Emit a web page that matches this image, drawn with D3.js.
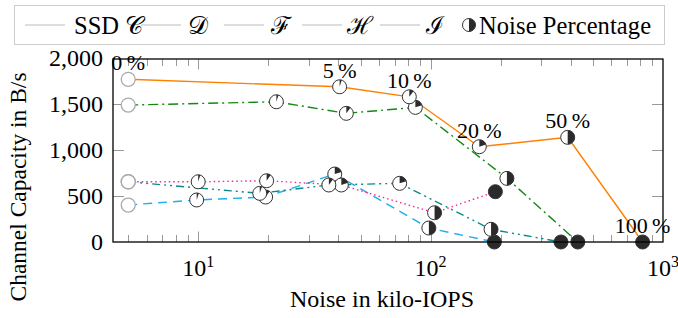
<!DOCTYPE html>
<html><head><meta charset="utf-8">
<script src="https://cdn.jsdelivr.net/npm/d3@7"></script>
<style>body{margin:0;background:#fff}svg{display:block}</style>
</head><body><svg id="c" width="678" height="318"></svg>
<script>
// ---- data ----
const percentages = [0, 5, 10, 20, 50, 100];
const seriesNames = ["SSD \u{1D49E}", "\u{1D49F}", "\u2131", "\u210B", "\u2110"];
const noiseC = [5, 40.6, 81, 162, 389, 817];
const capC   = [1769, 1688, 1579, 1036, 1138, 0];
const noiseD = [5, 21.7, 43.4, 86, 213, 430];
const capD   = [1489, 1525, 1399, 1464, 692, 0];
const noiseF = [5, 18.4, 36.5, 73.6, 182, 364];
const capF   = [655, 529, 620, 638, 138, 0];
const noiseH = [5, 10, 19.7, 41.3, 104, 190];
const capH   = [655, 655, 666, 620, 318, 547];
const noiseI = [5, 9.85, 19.5, 38.7, 98.3, 188];
const capI   = [402, 457, 489, 739, 152, 0];
const yTicks = [0, 500, 1000, 1500, 2000];
const xMajor = [10, 100, 1000];
const legendExtra = "Noise Percentage";
const xLabel = "Noise in kilo-IOPS";
const yLabel = "Channel Capacity in B/s";

// ---- styles ----
const styles = [
  {color: "#ff8000", dash: null},
  {color: "#118a11", dash: "10,4,2,4"},
  {color: "#0a8a8a", dash: "8,4,2,4,2,4"},
  {color: "#f0269a", dash: "1.5,3"},
  {color: "#1ab0ea", dash: "9,6"}
];
const series = [
  {name: seriesNames[0], xs: noiseC, ys: capC, labels: true},
  {name: seriesNames[1], xs: noiseD, ys: capD},
  {name: seriesNames[2], xs: noiseF, ys: capF},
  {name: seriesNames[3], xs: noiseH, ys: capH},
  {name: seriesNames[4], xs: noiseI, ys: capI}
];
// legend layout (line start x, text x)
const legendLayout = [[25, 74], [141, 188], [224, 271], [302, 347], [380, 426]];

const svg = d3.select("#c").style("font-family", '"Liberation Serif"');
const L = 113, R = 663, T = 59, B = 242;
const x = d3.scaleLog().domain([4.3, 1000]).range([L, R]);
const y = d3.scaleLinear().domain([0, 1990]).range([B, T]);
const FS = 24;
const txt = (sel) => sel.append("text").style("font-family", '"Liberation Serif"').attr("fill", "#000");

// ticks
const tg = svg.append("g").attr("stroke", "#999").attr("stroke-width", 1);
x.ticks().forEach(v => {
  const major = Math.abs(Math.log10(v) - Math.round(Math.log10(v))) < 1e-9;
  const len = major ? 10.5 : 7;
  const px = Math.round(x(v)) + 0.5;
  if (px > R - 1) return;
  tg.append("line").attr("x1", px).attr("x2", px).attr("y1", B).attr("y2", B - len);
  tg.append("line").attr("x1", px).attr("x2", px).attr("y1", T).attr("y2", T + len);
});
yTicks.forEach(v => {
  const py = Math.round(y(v)) + 0.5;
  if (py < T + 1 || py > B - 1) return;
  tg.append("line").attr("x1", L).attr("x2", L + 11).attr("y1", py).attr("y2", py);
  tg.append("line").attr("x1", R).attr("x2", R - 11).attr("y1", py).attr("y2", py);
});

// tick labels
const fmt = d3.format(",");
yTicks.forEach(v => {
  txt(svg).attr("x", L - 10).attr("y", y(v)).attr("text-anchor", "end")
    .attr("dominant-baseline", "central").attr("font-size", FS).text(fmt(v));
});
xMajor.forEach(v => {
  const t = txt(svg).attr("x", x(v)).attr("y", 276).attr("text-anchor", "middle").attr("font-size", FS);
  t.append("tspan").text("10");
  t.append("tspan").attr("font-size", 16).attr("dy", -9).text(String(Math.round(Math.log10(v))));
});

// axis labels
txt(svg).attr("x", 382).attr("y", 307).attr("text-anchor", "middle").attr("font-size", FS).text(xLabel);
txt(svg).attr("transform", "translate(26,187) rotate(-90)").attr("text-anchor", "middle").attr("font-size", 23.5).text(yLabel);

// series
const line = d3.line().x(d => x(d[0])).y(d => y(d[1]));
const arc = d3.arc().innerRadius(0).outerRadius(7);
const order = [4, 3, 2, 1, 0];
order.forEach(i => {
  const s = series[i], st = styles[i];
  const pts = s.xs.map((v, j) => [v, s.ys[j]]);
  svg.append("path").datum(pts).attr("d", line).attr("fill", "none")
    .attr("stroke", st.color).attr("stroke-width", 1.4)
    .attr("stroke-dasharray", st.dash);
});
order.forEach(i => {
  const s = series[i];
  s.xs.forEach((v, j) => {
    const p = percentages[j] / 100;
    const g = svg.append("g").attr("transform", `translate(${x(v)},${y(s.ys[j])})`);
    g.append("circle").attr("r", 7).attr("fill", p >= 1 ? "#2b2b2b" : "#fff");
    if (p > 0 && p < 1) g.append("path").attr("d", arc({startAngle: 0, endAngle: 2 * Math.PI * p})).attr("fill", "#2b2b2b");
    g.append("circle").attr("r", 7).attr("fill", "none")
      .attr("stroke", p === 0 ? "#aaa" : "#333").attr("stroke-width", p === 0 ? 1.3 : 1);
  });
  if (s.labels) {
    s.xs.forEach((v, j) => {
      txt(svg).attr("x", x(v)).attr("y", y(s.ys[j]) - 9).attr("text-anchor", "middle")
        .attr("font-size", 22).text(percentages[j] + "\u2009%");
    });
  }
});

// axis box
svg.append("rect").attr("x", L).attr("y", T).attr("width", R - L).attr("height", B - T)
  .attr("fill", "none").attr("stroke", "#000").attr("stroke-width", 1.3);

// legend
const lg = svg.append("g");
lg.append("rect").attr("x", 14.5).attr("y", 5.5).attr("width", 650).attr("height", 39)
  .attr("fill", "#fff").attr("stroke", "#ccc").attr("stroke-width", 1);
const ly = 25;
series.forEach((s, i) => {
  const [lx, tx] = legendLayout[i];
  lg.append("line").attr("x1", lx).attr("x2", lx + 40).attr("y1", ly).attr("y2", ly)
    .attr("stroke", "#bbb").attr("stroke-width", 1);
  txt(lg).attr("x", tx).attr("y", ly).attr("dominant-baseline", "central")
    .attr("font-size", 24.5).text(s.name);
});
const cx = 469;
const lgc = lg.append("g").attr("transform", `translate(${cx},${ly})`);
lgc.append("circle").attr("r", 6.5).attr("fill", "#fff");
lgc.append("path").attr("d", d3.arc().innerRadius(0).outerRadius(6.5)({startAngle: 0, endAngle: Math.PI})).attr("fill", "#2b2b2b");
lgc.append("circle").attr("r", 6.5).attr("fill", "none").attr("stroke", "#333");
txt(lg).attr("x", cx + 10).attr("y", ly).attr("dominant-baseline", "central")
  .attr("font-size", 24.5).attr("textLength", 172).attr("lengthAdjust", "spacing").text(legendExtra);
</script></body></html>
